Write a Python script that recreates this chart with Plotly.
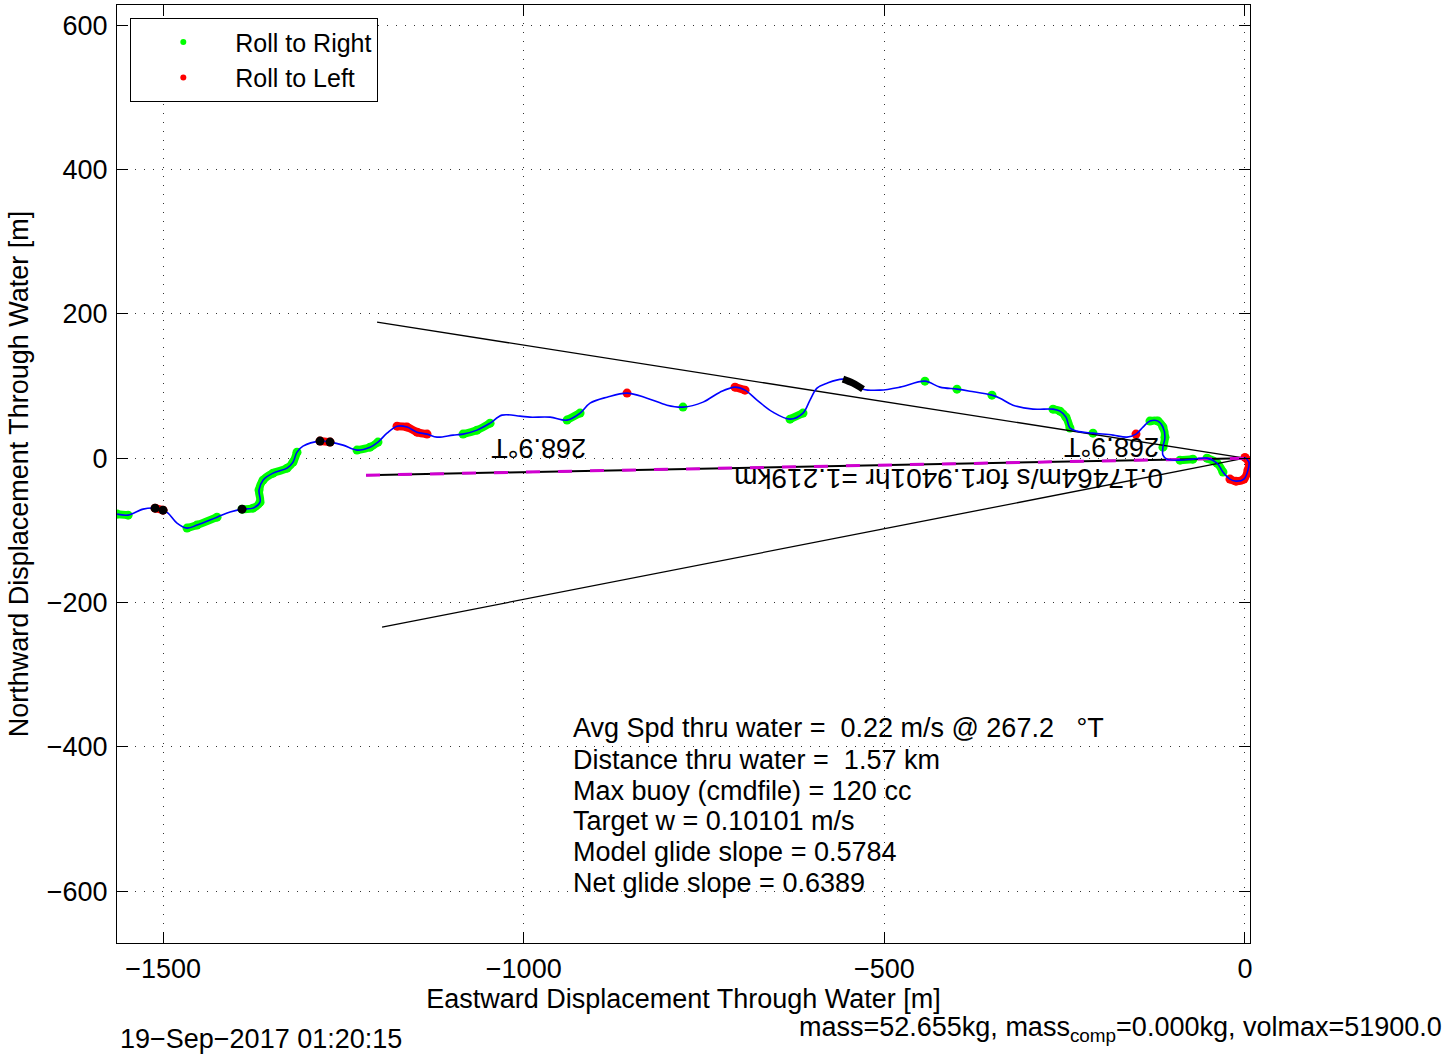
import plotly.graph_objects as go

# ---- data (metres, east / north) ----
track_x = [0, 5.5, 4.2, -1.4, -12.5, -20.8, -30.5, -38.8, -52.7, -72.1, -90.1, -108.1, -113.7, -113.7,
           -110.9, -113.7, -120.6, -131.7, -141.4, -151.1, -163.6, -183.0, -210.7, -232.9, -242.6, -248.2,
           -256.5, -266.2, -293.9, -321.6, -339.7, -350.8, -381.3, -399.3, -422.9, -443.7, -478.3, -506.1,
           -529.6, -543.5, -557.4, -579.5, -593.4, -603.1, -612.8, -630.8, -654.4, -676.6, -693.2, -707.1,
           -727.9, -751.4, -779.2, -801.4, -829.1, -856.8, -884.5, -908.1, -921.9, -940.0, -963.5, -991.3,
           -1005.1, -1030.1, -1046.7, -1064.8, -1084.2, -1098.0, -1120.2, -1134.1, -1148.0, -1161.8, -1175.7,
           -1189.6, -1202.1, -1213.1, -1231.2, -1250.6, -1268.6, -1282.5, -1306.1, -1314.4, -1319.9, -1328.2,
           -1347.6, -1361.5, -1367.1, -1365.7, -1375.4, -1390.6, -1407.2, -1425.3, -1453.0, -1466.9, -1480.8,
           -1493.2, -1500.2, -1511.2, -1527.9, -1548.6, -1563.9]
track_y = [1, -5.5, -16.6, -29.1, -31.9, -29.1, -19.4, -6.9, 0, -1.4, -2.8, -1.4, 4.2, 15.2,
           29.1, 43.0, 51.3, 51.3, 43.0, 33.3, 29.1, 31.9, 34.6, 37.4, 41.6, 56.8,
           65.1, 67.9, 67.9, 73.4, 83.1, 87.3, 92.8, 95.6, 98.4, 106.7, 98.4, 94.2,
           95.6, 103.9, 109.5, 103.9, 97.0, 80.4, 62.4, 54.0, 63.7, 80.4, 94.2, 98.4,
           91.4, 77.6, 70.7, 73.4, 83.1, 90.1, 84.5, 76.2, 62.4, 52.7, 56.8, 56.8,
           58.2, 59.6, 48.5, 38.8, 33.3, 31.9, 29.1, 33.3, 36.0, 43.0, 44.3,
           34.6, 22.2, 15.2, 11.1, 18.0, 22.2, 23.6, 16.6, 8.3, -5.5, -13.9,
           -20.8, -30.5, -44.3, -61.0, -69.3, -70.7, -74.8, -81.8, -92.8, -97.0, -90.1,
           -76.2, -72.1, -69.3, -70.7, -79.0, -77.6]

# index runs (inclusive) of the track where the vehicle rolled
roll_right_runs = [(99, 100), (91, 93), (81, 89), (74, 76), (64, 66), (58, 59), (52, 52), (44, 45),
                   (35, 35), (33, 33), (31, 31), (24, 27), (22, 22), (13, 17), (9, 10), (6, 8)]
roll_left_runs = [(96, 97), (78, 79), (69, 72), (55, 55), (48, 49), (19, 19), (0, 5)]
pitch_runs = [(38, 40)]
pitch_points = [89, 96, 97, 78, 79]

# reference heading lines (end points, from origin)
upper_line_x = [-1203.4, 0]
upper_line_y = [188.4, 0]
lower_line_x = [-1196.5, 0]
lower_line_y = [-234.2, 0]
current_x = [-1218.7, 0]
current_y = [-23.6, 0]

x_ticks = [-1500, -1000, -500, 0]
y_ticks = [-600, -400, -200, 0, 200, 400, 600]

stats_lines = [
    "Avg Spd thru water =\u00a0\u00a00.22 m/s @ 267.2\u00a0\u00a0\u00a0°T",
    "Distance thru water =\u00a0\u00a01.57 km",
    "Max buoy (cmdfile) = 120 cc",
    "Target w = 0.10101 m/s",
    "Model glide slope = 0.5784",
    "Net glide slope = 0.6389",
]

FONT = "Liberation Sans, Arial, Helvetica, sans-serif"
FS = 27


def runs_xy(runs):
    xs, ys = [], []
    for a, b in runs:
        xs += track_x[a:b + 1] + [None]
        ys += track_y[a:b + 1] + [None]
    return xs, ys


fig = go.Figure()

gx, gy = runs_xy(roll_right_runs)
rx, ry = runs_xy(roll_left_runs)
kx, ky = runs_xy(pitch_runs)

fig.add_trace(go.Scatter(x=gx, y=gy, mode="lines+markers",
                         line=dict(color="#00ff00", width=8, shape="spline", smoothing=1),
                         marker=dict(color="#00ff00", size=9), showlegend=False, hoverinfo="skip"))
fig.add_trace(go.Scatter(x=rx, y=ry, mode="lines+markers",
                         line=dict(color="#ff0000", width=8, shape="spline", smoothing=1),
                         marker=dict(color="#ff0000", size=9), showlegend=False, hoverinfo="skip"))

# reference lines
fig.add_trace(go.Scatter(x=upper_line_x, y=upper_line_y, mode="lines", line=dict(color="black", width=1.3),
                         showlegend=False))
fig.add_trace(go.Scatter(x=lower_line_x, y=lower_line_y, mode="lines", line=dict(color="black", width=1.3),
                         showlegend=False))
fig.add_trace(go.Scatter(x=current_x, y=current_y, mode="lines", line=dict(color="black", width=2),
                         showlegend=False))
fig.add_trace(go.Scatter(x=current_x, y=current_y, mode="lines",
                         line=dict(color="#d000d0", width=3, dash="14px,18px"), showlegend=False))

# track
fig.add_trace(go.Scatter(x=track_x, y=track_y, mode="lines",
                         line=dict(color="#0000ff", width=1.6, shape="spline", smoothing=1),
                         showlegend=False))
fig.add_trace(go.Scatter(x=kx, y=ky, mode="lines", line=dict(color="black", width=7, shape="spline"),
                         showlegend=False))
fig.add_trace(go.Scatter(x=[track_x[i] for i in pitch_points], y=[track_y[i] for i in pitch_points],
                         mode="markers", marker=dict(color="black", size=9), showlegend=False))

# legend entries
fig.add_trace(go.Scatter(x=[None], y=[None], mode="markers", marker=dict(color="#00ff00", size=6),
                         name="Roll to Right"))
fig.add_trace(go.Scatter(x=[None], y=[None], mode="markers", marker=dict(color="#ff0000", size=6),
                         name="Roll to Left"))

# annotations
ann = []
ann.append(dict(x=-979.5, y=13.9, xref="x", yref="y", text="268.9°T", showarrow=False, textangle=180,
                font=dict(size=FS, family=FONT, color="black")))
ann.append(dict(x=-185.1, y=14.5, xref="x", yref="y", text="268.9°T", showarrow=False, textangle=180,
                font=dict(size=FS, family=FONT, color="black")))
ann.append(dict(x=-411.1, y=-28.4, xref="x", yref="y", text="0.17464m/s for1.9401hr =1.219km",
                showarrow=False, textangle=180, font=dict(size=28, family=FONT, color="black")))

line_pix = [728, 760, 791, 821, 852, 883]
for txt, py in zip(stats_lines, line_pix):
    ann.append(dict(x=(571 - 1245) / 0.7213, y=(458 - py) / 0.7217, xref="x", yref="y", text=txt,
                    showarrow=False, xanchor="left", yanchor="middle",
                    font=dict(size=FS, family=FONT, color="black")))

ann.append(dict(x=(118 - 117) / 1133, y=(943 - 1039) / 938, xref="paper", yref="paper",
                text="19\u2212Sep\u22122017 01:20:15", showarrow=False, xanchor="left", yanchor="middle",
                font=dict(size=FS, family=FONT, color="black")))
ann.append(dict(x=(797 - 117) / 1133, y=(943 - 1029) / 938, xref="paper", yref="paper",
                text="mass=52.655kg, mass<sub>comp</sub>=0.000kg, volmax=51900.0", showarrow=False,
                xanchor="left", yanchor="middle", font=dict(size=FS, family=FONT, color="black")))

axis_common = dict(showline=True, linecolor="black", linewidth=1, mirror="ticks", ticks="inside",
                   ticklen=11, tickcolor="black", showgrid=True, gridcolor="#333333", griddash="1px,8px",
                   gridwidth=1, zeroline=False, tickfont=dict(size=FS, family=FONT, color="black"))

fig.update_layout(
    width=1451, height=1059,
    margin=dict(l=117, r=201, t=5, b=116, pad=0),
    paper_bgcolor="white", plot_bgcolor="white",
    font=dict(family=FONT, size=FS, color="black"),
    xaxis=dict(range=[-1564, 7], tickvals=x_ticks, ticklabelstandoff=2,
               title=dict(text="Eastward Displacement Through Water [m]", font=dict(size=FS, family=FONT),
                          standoff=4),
               **axis_common),
    yaxis=dict(range=[-672, 628], tickvals=y_ticks, ticklabelstandoff=3,
               title=dict(text="Northward Displacement Through Water [m]", font=dict(size=FS, family=FONT),
                          standoff=10),
               **axis_common),
    legend=dict(x=(130 - 117) / 1133, y=(943 - 18) / 938, xanchor="left", yanchor="top",
                bordercolor="black", borderwidth=1.3, bgcolor="white", itemwidth=94,
                font=dict(size=25, family=FONT, color="black"), tracegroupgap=0),
    annotations=ann,
    showlegend=True,
)

fig.write_html("out.html", post_script="document.body.style.margin='0px';",
               config={"displayModeBar": False})
